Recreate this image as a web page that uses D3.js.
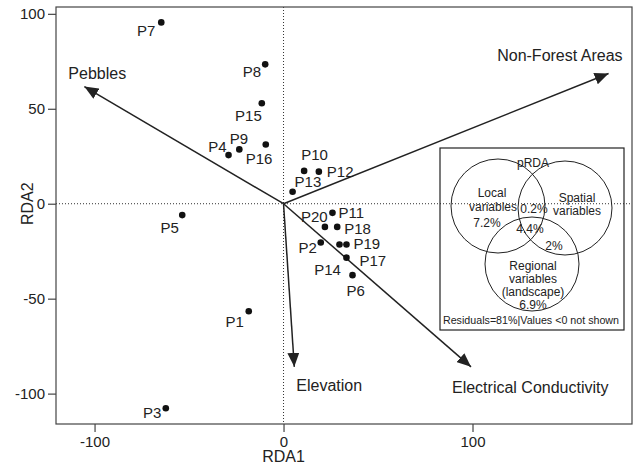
<!DOCTYPE html>
<html>
<head>
<meta charset="utf-8">
<script src="https://cdn.jsdelivr.net/npm/d3@7"></script>
<style>
  body { margin: 0; background: #fff; }
  svg text { font-family: "Liberation Sans", Arial, sans-serif; fill: #222; }
</style>
</head>
<body>
<div id="chart"></div>
<script>
// Site scores (RDA1, RDA2)
var sites = ["P1", "P2", "P3", "P4", "P5", "P6", "P7", "P8", "P9", "P10",
             "P11", "P12", "P13", "P14", "P15", "P16", "P17", "P18", "P19", "P20"];
var rda1 = [-18.4, 19.7, -62.3, -29.1, -53.6, 36.5, -64.7, -9.7, -23.4, 10.9,
            25.9, 18.7, 4.8, 29.6, -11.5, -9.4, 33.3, 28.4, 33.3, 21.9];
var rda2 = [-56.6, -20.4, -107.7, 25.6, -6.0, -37.6, 95.5, 73.4, 28.6, 17.3,
            -4.8, 16.9, 6.3, -21.5, 52.9, 31.2, -28.4, -12.2, -21.5, -12.2];

// Environmental vectors
var vectors = ["Pebbles", "Non-Forest Areas", "Elevation", "Electrical Conductivity"];
var vecRda1 = [-105.4, 172.0, 5.7, 99.2];
var vecRda2 = [61.7, 68.6, -85.9, -85.9];

// Axis ticks
var xTicks = [-100, 0, 100];
var yTicks = [-100, -50, 0, 50, 100];

// Variance partitioning inset
var vennTitle = "pRDA";
var vennParts = ["Local variables", "Spatial variables", "Regional variables (landscape)"];
var vennUnique = ["7.2%", "", "6.9%"];
var vennShared = ["0.2%", "4.4%", "2%"];   // local∩spatial, all three, spatial∩regional
var vennNote = "Residuals=81%|Values <0 not shown";

var W = 634, H = 468;
var x = d3.scaleLinear().domain([-120.4, 184.4]).range([56, 632]);
var y = d3.scaleLinear().domain([-116, 103.6]).range([424, 7]);

var svg = d3.select("#chart").append("svg")
    .attr("width", W).attr("height", H);

svg.append("defs").append("marker")
    .attr("id", "head")
    .attr("viewBox", "0 0 14 12")
    .attr("refX", 14).attr("refY", 6)
    .attr("markerUnits", "userSpaceOnUse")
    .attr("markerWidth", 14).attr("markerHeight", 12)
    .attr("orient", "auto")
  .append("path")
    .attr("d", "M0,0L14,6L0,12Z")
    .attr("fill", "#222");

// zero lines
svg.append("line")
    .attr("x1", x(0)).attr("x2", x(0))
    .attr("y1", y.range()[1]).attr("y2", y.range()[0])
    .attr("stroke", "#333").attr("stroke-dasharray", "1,2");
svg.append("line")
    .attr("x1", x.range()[0]).attr("x2", x.range()[1])
    .attr("y1", y(0)).attr("y2", y(0))
    .attr("stroke", "#333").attr("stroke-dasharray", "1,2");

// axes (plain hyphen for negatives, like the original)
var fmt = function(d) { return String(d); };
var xAxis = svg.append("g")
    .attr("transform", "translate(0," + y.range()[0] + ")")
    .call(d3.axisBottom(x).tickValues(xTicks).tickFormat(fmt).tickSize(8).tickPadding(4).tickSizeOuter(0));
var yAxis = svg.append("g")
    .attr("transform", "translate(" + x.range()[0] + ",0)")
    .call(d3.axisLeft(y).tickValues(yTicks).tickFormat(fmt).tickSize(8).tickPadding(3).tickSizeOuter(0));
[xAxis, yAxis].forEach(function(g) {
    g.select(".domain").remove();
    g.selectAll("line").attr("stroke", "#444").attr("stroke-width", 1.2);
    g.selectAll("text").style("font-size", "15px").attr("fill", "#222");
});

// frame
svg.append("rect")
    .attr("x", x.range()[0]).attr("y", y.range()[1])
    .attr("width", x.range()[1] - x.range()[0])
    .attr("height", y.range()[0] - y.range()[1])
    .attr("fill", "none").attr("stroke", "#444").attr("stroke-width", 1.2);

svg.append("text")
    .attr("x", x(0)).attr("y", 462)
    .attr("text-anchor", "middle").style("font-size", "16px")
    .text("RDA1");
svg.append("text")
    .attr("transform", "translate(33," + y(0) + ") rotate(-90)")
    .attr("text-anchor", "middle").style("font-size", "16px")
    .text("RDA2");

// vectors
svg.selectAll(".vec")
    .data(vectors)
    .enter().append("line")
    .attr("x1", x(0)).attr("y1", y(0))
    .attr("x2", function(d, i) { return x(vecRda1[i]); })
    .attr("y2", function(d, i) { return y(vecRda2[i]); })
    .attr("stroke", "#222").attr("stroke-width", 1.5)
    .attr("marker-end", "url(#head)");

// vector label placement (anchor, dx, dy from arrow tip)
var vecPlace = [["start", -16, -8], ["end", 14, -12], ["start", 2, 24], ["start", -19, 26]];
svg.selectAll(".veclab")
    .data(vectors)
    .enter().append("text")
    .attr("x", function(d, i) { return x(vecRda1[i]) + vecPlace[i][1]; })
    .attr("y", function(d, i) { return y(vecRda2[i]) + vecPlace[i][2]; })
    .attr("text-anchor", function(d, i) { return vecPlace[i][0]; })
    .style("font-size", "16px")
    .text(function(d) { return d; });

// sites
svg.selectAll(".site")
    .data(sites)
    .enter().append("circle")
    .attr("cx", function(d, i) { return x(rda1[i]); })
    .attr("cy", function(d, i) { return y(rda2[i]); })
    .attr("r", 3.3)
    .attr("fill", "#111");

// site label placement (anchor, dx, dy)
var sitePlace = {
    P1: ["end", -5, 15.5], P2: ["end", -4, 10.5], P3: ["end", -4.5, 10],
    P4: ["end", -2, -3], P5: ["end", -3.5, 18], P6: ["start", -6, 21],
    P7: ["end", -6, 14], P8: ["end", -4, 13], P9: ["start", -9.5, -5],
    P10: ["start", -3, -10.5], P11: ["start", 6, 5.5], P12: ["start", 8, 5.5],
    P13: ["start", 2, -4.5], P14: ["end", 1.5, 30.5], P15: ["end", 0, 17.5],
    P16: ["start", -20, 20], P17: ["start", 13, 8], P18: ["start", 7, 7],
    P19: ["start", 7, 4.5], P20: ["start", -24, -4.5]
};
svg.selectAll(".sitelab")
    .data(sites)
    .enter().append("text")
    .attr("x", function(d, i) { return x(rda1[i]) + sitePlace[d][1]; })
    .attr("y", function(d, i) { return y(rda2[i]) + sitePlace[d][2]; })
    .attr("text-anchor", function(d) { return sitePlace[d][0]; })
    .style("font-size", "15px")
    .text(function(d) { return d; });

// inset: variance partitioning
var inset = svg.append("g");
inset.append("rect")
    .attr("x", 440).attr("y", 148).attr("width", 184).attr("height", 182)
    .attr("fill", "none").attr("stroke", "#222").attr("stroke-width", 1.2);

var circ = [[498, 206], [565, 208], [532, 264]];
inset.selectAll("circle")
    .data(circ)
    .enter().append("circle")
    .attr("cx", function(d) { return d[0]; })
    .attr("cy", function(d) { return d[1]; })
    .attr("r", 47)
    .attr("fill", "none").attr("stroke", "#222").attr("stroke-width", 1);

function vtext(tx, ty, s, size) {
    inset.append("text")
        .attr("x", tx).attr("y", ty)
        .attr("text-anchor", "middle")
        .style("font-size", (size || 12) + "px")
        .text(s);
}
vtext(533, 167, vennTitle);
vtext(492, 197, vennParts[0].split(" ")[0]);
vtext(493, 211, vennParts[0].split(" ")[1]);
vtext(487, 227, vennUnique[0]);
vtext(577, 202, vennParts[1].split(" ")[0]);
vtext(577, 215, vennParts[1].split(" ")[1]);
vtext(534, 213, vennShared[0]);
vtext(530, 233, vennShared[1]);
vtext(554, 250, vennShared[2]);
vtext(533, 270, vennParts[2].split(" ")[0]);
vtext(533, 283, vennParts[2].split(" ")[1]);
vtext(533, 296, vennParts[2].split(" ")[2]);
vtext(533, 309, vennUnique[2]);
vtext(531, 324, vennNote, 10.7);
</script>
</body>
</html>
